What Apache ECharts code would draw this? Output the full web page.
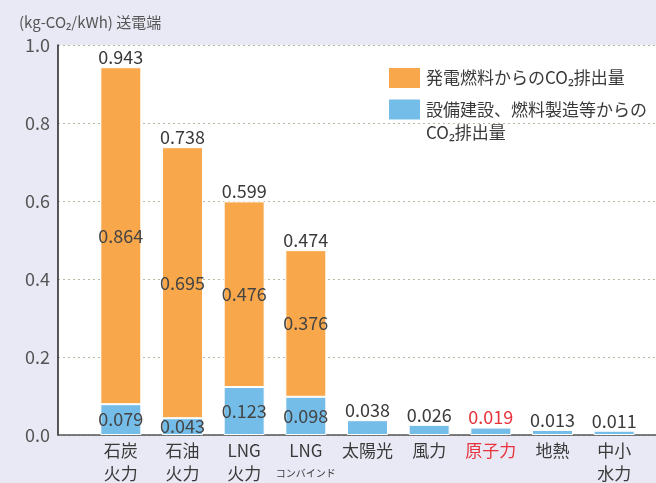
<!DOCTYPE html>
<html>
<head>
<meta charset="utf-8">
<script src="https://cdn.jsdelivr.net/npm/echarts@6/dist/echarts.min.js"></script>
<style>
  html, body { margin: 0; padding: 0; background: #e8e9f5; }
  #chart { width: 656px; height: 483px; }
</style>
</head>
<body>
<div id="chart"></div>
<script>
const categories = ["石炭\n火力", "石油\n火力", "LNG\n火力", "LNG\n{s|コンバインド}", "太陽光", "風力", "原子力", "地熱", "中小\n水力"]
const fuelValues = [0.864, 0.695, 0.476, 0.376, 0, 0, 0, 0, 0]
const buildValues = [0.079, 0.043, 0.123, 0.098, 0.038, 0.026, 0.019, 0.013, 0.011]
const totalValues = [0.943, 0.738, 0.599, 0.474, 0.038, 0.026, 0.019, 0.013, 0.011]
const yTicks = [0, 0.2, 0.4, 0.6, 0.8, 1.0]

const fuelName = "発電燃料からのCO₂排出量"
const buildName = "設備建設、燃料製造等からの\nCO₂排出量"
const redIndex = 6

const FONT = "'Noto Sans CJK JP', 'Noto Sans', sans-serif"
const textColor = "#3a3a3a"
const red = "#e8333b"

const chart = echarts.init(document.getElementById("chart"))

chart.setOption({
  backgroundColor: "#e8e9f5",
  textStyle: { fontFamily: FONT },
  graphic: [{
    type: "text",
    left: 19,
    top: 15,
    style: { text: "(kg-CO₂/kWh) 送電端", fontSize: 15, fill: "#555", fontFamily: FONT }
  }],
  legend: {
    orient: "vertical",
    left: 387,
    top: 66,
    padding: 0,
    itemWidth: 33,
    itemHeight: 22,
    itemGap: -15,
    icon: "rect",
    data: [fuelName, buildName],
    // blank first line so the icon sits beside the first real line of the two-line name
    formatter: name => name === buildName ? " \n" + name : name,
    textStyle: { fontSize: 17, color: textColor, lineHeight: 23, fontFamily: FONT }
  },
  grid: [
    { left: 58, right: 0, top: 45, bottom: 48, show: true, backgroundColor: "#fff", borderWidth: 0, outerBoundsMode: "none" },
    { left: 90, right: 11, top: 45, bottom: 48, outerBoundsMode: "none" }
  ],
  xAxis: [
    {
      gridIndex: 0, type: "value", min: 0, max: 1,
      axisLine: { show: true, lineStyle: { color: "#555", width: 1.5 } },
      axisTick: { show: false }, axisLabel: { show: false }, splitLine: { show: false }
    },
    {
      gridIndex: 1, type: "category", data: categories,
      axisLine: { show: false }, axisTick: { show: false },
      axisLabel: {
        interval: 0, margin: 4, fontSize: 17, lineHeight: 23, color: textColor, fontFamily: FONT,
        formatter: (v, i) => i === redIndex ? "{r|" + v + "}" : v,
        rich: {
          s: { fontSize: 10, color: textColor, fontFamily: FONT, lineHeight: 23 },
          r: { fontSize: 17, color: red, fontFamily: FONT }
        }
      }
    }
  ],
  yAxis: [
    {
      gridIndex: 0, type: "value", min: yTicks[0], max: yTicks[yTicks.length - 1], interval: 0.2,
      axisLine: { show: true, lineStyle: { color: "#222", width: 1.5 } },
      axisTick: { show: false },
      axisLabel: { fontSize: 18, color: "#555", margin: 8, formatter: v => v.toFixed(1), fontFamily: FONT },
      splitLine: { show: true, lineStyle: { type: [2, 3], color: "#b9b9a2", width: 1 } }
    },
    { gridIndex: 1, type: "value", min: 0, max: 1, show: false }
  ],
  series: [
    {
      name: buildName, type: "bar", stack: "co2", xAxisIndex: 1, yAxisIndex: 1,
      data: buildValues.map((v, i) => i < 4 ? v : { value: v, label: { show: false } }),
      barWidth: 41,
      itemStyle: { color: "#74bde8", borderColor: "#fff", borderWidth: 1 },
      label: { show: true, position: "inside", fontSize: 18, color: "#444", formatter: p => p.value.toFixed(3) }
    },
    {
      name: fuelName, type: "bar", stack: "co2", xAxisIndex: 1, yAxisIndex: 1,
      data: fuelValues.map(v => v || null),
      barWidth: 41,
      itemStyle: { color: "#f8a74b", borderColor: "#fff", borderWidth: 1 },
      label: { show: true, position: "inside", fontSize: 18, color: "#444", formatter: p => p.value.toFixed(3) }
    },
    {
      name: "total", type: "bar", stack: "co2", xAxisIndex: 1, yAxisIndex: 1,
      data: totalValues.map((t, i) => ({
        value: 0,
        label: { color: i === redIndex ? red : textColor }
      })),
      barWidth: 41,
      itemStyle: { color: "transparent" },
      label: {
        show: true, position: "top", distance: 1, fontSize: 18,
        formatter: p => totalValues[p.dataIndex].toFixed(3)
      }
    }
  ]
})
</script>
</body>
</html>
